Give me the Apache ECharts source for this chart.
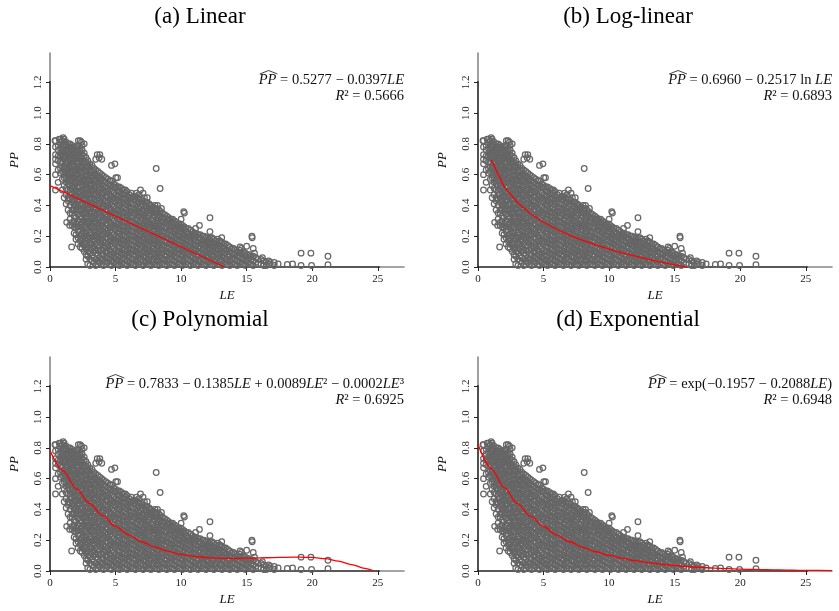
<!DOCTYPE html>
<html>
<head>
<meta charset="utf-8">
<title>PP against LE, four fits</title>
<script src="https://cdn.jsdelivr.net/npm/echarts@6/dist/echarts.min.js"></script>
<style>
  html, body { margin: 0; padding: 0; background: #fff; }
  #chart { width: 839px; height: 611px; }
</style>
</head>
<body>
<div id="chart"></div>
<script>
var colLE = [0.42, 0.8, 1.08, 1.38, 1.69, 1.98, 2.3, 2.61, 2.88, 3.21, 3.49, 3.8, 4.08, 4.41, 4.69,
  5.02, 5.3, 5.61, 5.88, 6.2, 6.52, 6.79, 7.1, 7.42, 7.69, 8.01, 8.3, 8.58, 8.91, 9.2, 9.49, 9.81,
  10.1, 10.38, 10.71, 11.0, 11.29, 11.62, 11.9, 12.21, 12.49, 12.8, 13.12, 13.4, 13.71, 14.0, 14.28,
  14.6, 14.9, 15.22, 15.5, 15.88, 16.3, 16.68, 17.1];
var colPP = [
  [0.5, 0.6, 0.67, 0.7, 0.73, 0.78, 0.82],
  [0.61, 0.64, 0.68, 0.72, 0.74, 0.77, 0.81, 0.83],
  [0.45, 0.53, 0.58, 0.6, 0.64, 0.66, 0.7, 0.72, 0.75, 0.78, 0.8, 0.83],
  [0.37, 0.43, 0.45, 0.5, 0.54, 0.56, 0.6, 0.62, 0.65, 0.68, 0.7, 0.73, 0.75, 0.77, 0.8],
  [0.27, 0.29, 0.35, 0.37, 0.42, 0.44, 0.48, 0.51, 0.53, 0.57, 0.59, 0.62, 0.65, 0.67, 0.7, 0.73, 0.74, 0.77, 0.79],
  [0.18, 0.21, 0.26, 0.28, 0.32, 0.36, 0.38, 0.41, 0.45, 0.47, 0.5, 0.54, 0.56, 0.59, 0.61, 0.64, 0.68, 0.7, 0.72, 0.75, 0.78],
  [0.13, 0.17, 0.2, 0.24, 0.27, 0.31, 0.33, 0.37, 0.4, 0.44, 0.46, 0.49, 0.52, 0.55, 0.58, 0.62, 0.64, 0.66, 0.7, 0.72, 0.75, 0.77, 0.82],
  [0.1, 0.14, 0.16, 0.2, 0.23, 0.27, 0.3, 0.34, 0.36, 0.39, 0.43, 0.45, 0.48, 0.51, 0.55, 0.57, 0.6, 0.63, 0.67, 0.69, 0.72, 0.74, 0.8],
  [0.02, 0.07, 0.1, 0.13, 0.18, 0.2, 0.24, 0.28, 0.3, 0.33, 0.37, 0.39, 0.42, 0.46, 0.48, 0.51, 0.55, 0.57, 0.6, 0.64, 0.66, 0.69],
  [0.04, 0.07, 0.12, 0.15, 0.17, 0.21, 0.25, 0.27, 0.31, 0.33, 0.36, 0.4, 0.42, 0.45, 0.49, 0.51, 0.54, 0.58, 0.6, 0.63, 0.66],
  [0.01, 0.05, 0.09, 0.11, 0.15, 0.19, 0.21, 0.24, 0.28, 0.3, 0.33, 0.37, 0.39, 0.42, 0.46, 0.48, 0.51, 0.55, 0.57, 0.6, 0.63, 0.7],
  [0.03, 0.06, 0.1, 0.14, 0.16, 0.19, 0.23, 0.25, 0.28, 0.32, 0.34, 0.37, 0.41, 0.43, 0.46, 0.5, 0.52, 0.55, 0.58, 0.61, 0.73],
  [0.01, 0.05, 0.08, 0.12, 0.14, 0.17, 0.21, 0.23, 0.26, 0.3, 0.32, 0.35, 0.39, 0.41, 0.44, 0.48, 0.5, 0.53, 0.56, 0.59],
  [0.03, 0.06, 0.09, 0.13, 0.15, 0.18, 0.22, 0.24, 0.27, 0.31, 0.33, 0.36, 0.4, 0.42, 0.45, 0.49, 0.51, 0.54, 0.57],
  [0.01, 0.04, 0.08, 0.1, 0.13, 0.17, 0.19, 0.22, 0.26, 0.28, 0.31, 0.35, 0.37, 0.4, 0.44, 0.46, 0.49, 0.53, 0.56, 0.66],
  [0.02, 0.05, 0.07, 0.11, 0.15, 0.17, 0.2, 0.24, 0.26, 0.29, 0.33, 0.35, 0.38, 0.42, 0.44, 0.47, 0.51, 0.53, 0.58],
  [0.01, 0.04, 0.08, 0.1, 0.13, 0.16, 0.2, 0.22, 0.25, 0.29, 0.31, 0.34, 0.38, 0.4, 0.43, 0.47, 0.49, 0.52],
  [0.02, 0.06, 0.08, 0.11, 0.15, 0.17, 0.2, 0.24, 0.26, 0.29, 0.33, 0.35, 0.38, 0.42, 0.44, 0.47, 0.5],
  [0.01, 0.04, 0.07, 0.1, 0.14, 0.16, 0.19, 0.23, 0.25, 0.28, 0.32, 0.34, 0.37, 0.41, 0.43, 0.46, 0.49],
  [0.02, 0.05, 0.09, 0.11, 0.14, 0.18, 0.2, 0.23, 0.27, 0.29, 0.32, 0.36, 0.38, 0.41, 0.45, 0.48],
  [0.01, 0.04, 0.07, 0.1, 0.13, 0.16, 0.19, 0.22, 0.25, 0.28, 0.31, 0.35, 0.37, 0.4, 0.44, 0.46],
  [0.02, 0.06, 0.08, 0.11, 0.15, 0.17, 0.2, 0.24, 0.26, 0.29, 0.33, 0.35, 0.38, 0.42, 0.44, 0.47],
  [0.01, 0.04, 0.07, 0.1, 0.14, 0.16, 0.19, 0.23, 0.25, 0.28, 0.32, 0.34, 0.37, 0.41, 0.43, 0.48],
  [0.02, 0.05, 0.09, 0.11, 0.14, 0.18, 0.2, 0.23, 0.27, 0.29, 0.32, 0.36, 0.38, 0.42, 0.45],
  [0.01, 0.04, 0.07, 0.1, 0.13, 0.16, 0.19, 0.22, 0.26, 0.28, 0.31, 0.35, 0.37, 0.4],
  [0.02, 0.06, 0.08, 0.11, 0.15, 0.17, 0.2, 0.24, 0.26, 0.29, 0.33, 0.35, 0.38, 0.4],
  [0.01, 0.04, 0.07, 0.1, 0.14, 0.16, 0.19, 0.23, 0.25, 0.28, 0.32, 0.34, 0.37],
  [0.02, 0.05, 0.09, 0.11, 0.14, 0.18, 0.2, 0.23, 0.27, 0.29, 0.32, 0.35],
  [0.01, 0.04, 0.07, 0.1, 0.13, 0.16, 0.19, 0.22, 0.26, 0.28, 0.31, 0.33],
  [0.02, 0.06, 0.08, 0.11, 0.15, 0.17, 0.2, 0.24, 0.26, 0.29, 0.31],
  [0.01, 0.04, 0.07, 0.1, 0.14, 0.16, 0.19, 0.23, 0.25, 0.28, 0.3],
  [0.02, 0.05, 0.09, 0.11, 0.14, 0.18, 0.2, 0.23, 0.26, 0.28],
  [0.01, 0.04, 0.07, 0.1, 0.13, 0.16, 0.19, 0.22, 0.25, 0.27],
  [0.02, 0.06, 0.08, 0.11, 0.15, 0.17, 0.2, 0.23, 0.25],
  [0.01, 0.04, 0.07, 0.1, 0.14, 0.16, 0.19, 0.21, 0.24],
  [0.02, 0.05, 0.09, 0.11, 0.14, 0.18, 0.2, 0.22],
  [0.01, 0.04, 0.07, 0.1, 0.13, 0.16, 0.19, 0.21],
  [0.02, 0.06, 0.08, 0.11, 0.15, 0.17, 0.2],
  [0.01, 0.04, 0.07, 0.1, 0.14, 0.16, 0.19],
  [0.02, 0.05, 0.09, 0.11, 0.14, 0.16, 0.19],
  [0.01, 0.04, 0.07, 0.1, 0.13, 0.15, 0.18],
  [0.02, 0.06, 0.08, 0.11, 0.14, 0.18],
  [0.01, 0.04, 0.07, 0.1, 0.13, 0.16],
  [0.02, 0.05, 0.09, 0.11, 0.15],
  [0.01, 0.04, 0.07, 0.1, 0.13],
  [0.02, 0.06, 0.08, 0.12],
  [0.01, 0.04, 0.07, 0.1],
  [0.02, 0.05, 0.09, 0.12],
  [0.01, 0.04, 0.07, 0.09],
  [0.02, 0.06, 0.08],
  [0.01, 0.04, 0.07],
  [0.02, 0.05],
  [0.01, 0.04],
  [0.02, 0.04],
  [0.01, 0.03]
];
// second set of columns lying between the first ones
var colLE2 = [0.62, 0.94, 1.23, 1.53, 1.84, 2.14, 2.45, 2.75, 3.05, 3.35, 3.65, 3.94, 4.25, 4.55, 4.86,
  5.16, 5.46, 5.75, 6.05, 6.36, 6.66, 6.95, 7.26, 7.56, 7.85, 8.16, 8.44, 8.75, 9.05, 9.35, 9.65, 9.95,
  10.24, 10.55, 10.86, 11.15, 11.46, 11.76, 12.05, 12.35, 12.65, 12.96, 13.26, 13.55, 13.86, 14.14,
  14.45, 14.75, 15.06, 15.36, 15.7, 16.1, 16.5];
var colPP2 = [
  [0.55, 0.63, 0.69, 0.72, 0.76, 0.79],
  [0.5, 0.57, 0.62, 0.65, 0.68, 0.71, 0.73, 0.76, 0.79, 0.82],
  [0.41, 0.47, 0.51, 0.55, 0.58, 0.61, 0.64, 0.67, 0.69, 0.72, 0.74, 0.76, 0.79, 0.81],
  [0.31, 0.35, 0.4, 0.44, 0.47, 0.5, 0.53, 0.56, 0.59, 0.61, 0.64, 0.66, 0.69, 0.71, 0.74, 0.76, 0.78, 0.8],
  [0.22, 0.26, 0.3, 0.33, 0.37, 0.4, 0.43, 0.46, 0.49, 0.52, 0.55, 0.58, 0.6, 0.63, 0.66, 0.69, 0.71, 0.73, 0.76, 0.78],
  [0.15, 0.19, 0.23, 0.26, 0.3, 0.34, 0.37, 0.4, 0.43, 0.46, 0.49, 0.52, 0.55, 0.57, 0.6, 0.63, 0.65, 0.68, 0.71, 0.73, 0.76, 0.79],
  [0.12, 0.15, 0.19, 0.22, 0.26, 0.29, 0.32, 0.35, 0.38, 0.41, 0.44, 0.47, 0.5, 0.53, 0.56, 0.59, 0.62, 0.65, 0.68, 0.71, 0.73, 0.76, 0.79],
  [0.05, 0.08, 0.12, 0.15, 0.19, 0.22, 0.26, 0.29, 0.32, 0.35, 0.38, 0.41, 0.44, 0.47, 0.5, 0.53, 0.56, 0.59, 0.62, 0.65, 0.68, 0.71],
  [0.01, 0.05, 0.09, 0.12, 0.16, 0.19, 0.22, 0.26, 0.29, 0.32, 0.35, 0.38, 0.41, 0.44, 0.47, 0.5, 0.53, 0.56, 0.59, 0.62, 0.65, 0.67],
  [0.03, 0.06, 0.1, 0.13, 0.17, 0.2, 0.23, 0.26, 0.29, 0.32, 0.35, 0.38, 0.41, 0.44, 0.47, 0.5, 0.53, 0.56, 0.59, 0.62, 0.64],
  [0.02, 0.04, 0.08, 0.11, 0.14, 0.18, 0.2, 0.23, 0.27, 0.29, 0.32, 0.36, 0.38, 0.41, 0.45, 0.47, 0.5, 0.54, 0.56, 0.59, 0.62],
  [0.02, 0.05, 0.08, 0.11, 0.15, 0.18, 0.21, 0.24, 0.27, 0.3, 0.33, 0.36, 0.39, 0.42, 0.45, 0.48, 0.51, 0.54, 0.57, 0.6],
  [0.02, 0.04, 0.07, 0.1, 0.13, 0.16, 0.19, 0.22, 0.25, 0.28, 0.31, 0.34, 0.37, 0.4, 0.43, 0.46, 0.49, 0.52, 0.55, 0.58],
  [0.02, 0.05, 0.08, 0.11, 0.14, 0.17, 0.2, 0.23, 0.26, 0.29, 0.32, 0.35, 0.38, 0.41, 0.44, 0.47, 0.5, 0.53, 0.56],
  [0.03, 0.06, 0.09, 0.12, 0.16, 0.18, 0.21, 0.25, 0.27, 0.3, 0.34, 0.36, 0.39, 0.43, 0.45, 0.48, 0.52, 0.54],
  [0.02, 0.04, 0.07, 0.1, 0.13, 0.16, 0.19, 0.22, 0.25, 0.28, 0.31, 0.34, 0.37, 0.4, 0.43, 0.46, 0.49, 0.52],
  [0.03, 0.05, 0.09, 0.12, 0.15, 0.18, 0.21, 0.24, 0.27, 0.3, 0.33, 0.36, 0.39, 0.42, 0.45, 0.48, 0.51],
  [0.02, 0.05, 0.08, 0.12, 0.14, 0.17, 0.21, 0.23, 0.26, 0.3, 0.32, 0.35, 0.39, 0.41, 0.44, 0.48, 0.5],
  [0.03, 0.06, 0.09, 0.12, 0.15, 0.18, 0.21, 0.24, 0.27, 0.3, 0.33, 0.36, 0.39, 0.42, 0.45, 0.47],
  [0.02, 0.05, 0.08, 0.11, 0.14, 0.17, 0.2, 0.23, 0.26, 0.29, 0.33, 0.35, 0.38, 0.41, 0.44, 0.46],
  [0.03, 0.05, 0.09, 0.12, 0.15, 0.18, 0.21, 0.24, 0.27, 0.3, 0.33, 0.36, 0.39, 0.42, 0.45],
  [0.02, 0.05, 0.08, 0.12, 0.14, 0.17, 0.21, 0.23, 0.26, 0.3, 0.32, 0.35, 0.39, 0.41, 0.44],
  [0.03, 0.06, 0.09, 0.12, 0.15, 0.18, 0.21, 0.24, 0.27, 0.3, 0.33, 0.36, 0.39, 0.42],
  [0.02, 0.05, 0.08, 0.11, 0.14, 0.17, 0.2, 0.23, 0.26, 0.29, 0.33, 0.35, 0.38, 0.41],
  [0.03, 0.05, 0.09, 0.12, 0.15, 0.18, 0.21, 0.24, 0.27, 0.3, 0.33, 0.36, 0.39],
  [0.02, 0.05, 0.08, 0.12, 0.14, 0.17, 0.21, 0.23, 0.26, 0.3, 0.32, 0.35, 0.38],
  [0.03, 0.06, 0.09, 0.12, 0.15, 0.18, 0.21, 0.24, 0.27, 0.3, 0.33, 0.36],
  [0.02, 0.05, 0.08, 0.11, 0.14, 0.17, 0.2, 0.23, 0.26, 0.29, 0.32, 0.34],
  [0.03, 0.05, 0.09, 0.12, 0.15, 0.18, 0.21, 0.24, 0.27, 0.3, 0.32],
  [0.02, 0.05, 0.08, 0.12, 0.14, 0.17, 0.21, 0.23, 0.26, 0.29, 0.31],
  [0.03, 0.06, 0.09, 0.12, 0.15, 0.18, 0.21, 0.24, 0.27, 0.29],
  [0.02, 0.05, 0.08, 0.11, 0.14, 0.17, 0.2, 0.23, 0.25, 0.28],
  [0.03, 0.05, 0.09, 0.12, 0.15, 0.18, 0.21, 0.24, 0.26],
  [0.02, 0.05, 0.08, 0.12, 0.14, 0.17, 0.2, 0.22, 0.25],
  [0.03, 0.06, 0.09, 0.12, 0.15, 0.18, 0.21, 0.23],
  [0.02, 0.05, 0.08, 0.11, 0.14, 0.17, 0.2, 0.22],
  [0.03, 0.05, 0.09, 0.12, 0.15, 0.18, 0.21],
  [0.02, 0.05, 0.08, 0.12, 0.14, 0.17, 0.2],
  [0.03, 0.06, 0.09, 0.12, 0.15, 0.17, 0.19],
  [0.02, 0.05, 0.08, 0.11, 0.14, 0.16, 0.19],
  [0.03, 0.05, 0.09, 0.12, 0.15, 0.17],
  [0.02, 0.05, 0.08, 0.12, 0.14, 0.17],
  [0.03, 0.06, 0.09, 0.12, 0.15],
  [0.02, 0.05, 0.08, 0.11, 0.14],
  [0.03, 0.05, 0.09, 0.12],
  [0.02, 0.05, 0.08, 0.11],
  [0.03, 0.06, 0.09, 0.11],
  [0.02, 0.05, 0.08, 0.1],
  [0.03, 0.05, 0.08],
  [0.02, 0.05, 0.07],
  [0.03, 0.06],
  [0.02, 0.05],
  [0.01, 0.03]
];
// points lying away from the main cloud
var sparseLE = [0.38, 0.7, 1.0, 1.65, 1.27, 1.5, 2.16, 2.4, 3.6, 3.75, 3.95, 4.95, 5.15, 6.6, 6.9, 7.2,
  7.6, 8.2, 8.5, 8.1, 8.4, 10.0, 10.2, 10.25, 11.1, 11.4, 12.2, 12.2, 13.1, 14.5, 15.0, 15.4, 15.42,
  15.5, 15.6, 16.2, 16.8, 17.4, 18.1, 18.5, 19.15, 19.15, 19.9, 19.95, 21.2, 21.2];
var sparsePP = [0.82, 0.83, 0.84, 0.13, 0.29, 0.27, 0.82, 0.81, 0.73, 0.71, 0.70, 0.67, 0.58, 0.48, 0.50, 0.45,
  0.40, 0.40, 0.38, 0.64, 0.51, 0.31, 0.36, 0.35, 0.25, 0.27, 0.32, 0.23, 0.19, 0.13, 0.135, 0.20, 0.19,
  0.12, 0.09, 0.06, 0.03, 0.02, 0.017, 0.02, 0.09, 0.01, 0.09, 0.01, 0.07, 0.015];

// fitted curves
var linLE = [0, 13.3];
var linPP = [0.528, 0];
var logLE = [1, 2, 3, 4, 5, 6, 7, 8, 9, 10, 11, 12, 13, 14, 15, 15.9];
var logPP = [0.696, 0.522, 0.419, 0.347, 0.291, 0.245, 0.206, 0.173, 0.143, 0.116, 0.092, 0.071, 0.05, 0.032, 0.014, 0];
var polyLE = [0, 1, 2, 3, 4, 5, 6, 7, 8, 9, 10, 11, 12, 13, 14, 15, 16, 17, 18, 19, 20, 21, 22, 23, 24, 24.7];
var polyPP = [0.783, 0.65, 0.535, 0.44, 0.36, 0.29, 0.235, 0.19, 0.155, 0.128, 0.108, 0.095, 0.087, 0.083,
  0.082, 0.083, 0.085, 0.087, 0.089, 0.09, 0.088, 0.08, 0.064, 0.042, 0.017, 0];
var expLE = [0, 1, 2, 3, 4, 5, 6, 7, 8, 9, 10, 11, 12, 13, 14, 15, 16, 17, 18, 19, 20, 21, 22, 23, 24, 25, 26, 27];
var expPP = [0.822, 0.667, 0.541, 0.439, 0.356, 0.289, 0.234, 0.19, 0.154, 0.125, 0.101, 0.082, 0.067, 0.054,
  0.044, 0.036, 0.029, 0.023, 0.019, 0.015, 0.012, 0.01, 0.008, 0.007, 0.005, 0.004, 0.004, 0.003];

var xTicks = [0, 5, 10, 15, 20, 25];
var yTicks = [0, 0.2, 0.4, 0.6, 0.8, 1.0, 1.2];

var panelTitles = ['(a) Linear', '(b) Log-linear', '(c) Polynomial', '(d) Exponential'];
// equation pieces: [text, italic]
var eqLines = [
  [['PP', 1], [' = 0.5277 \u2212 0.0397', 0], ['LE', 1]],
  [['PP', 1], [' = 0.6960 \u2212 0.2517 ln ', 0], ['LE', 1]],
  [['PP', 1], [' = 0.7833 \u2212 0.1385', 0], ['LE', 1], [' + 0.0089', 0], ['LE', 1], ['\u00b2', 0],
    [' \u2212 0.0002', 0], ['LE', 1], ['\u00b3', 0]],
  [['PP', 1], [' = exp(\u22120.1957 \u2212 0.2088', 0], ['LE', 1], [')', 0]]
];
var r2Values = ['0.5666', '0.6893', '0.6925', '0.6948'];

var SERIF = '"Liberation Serif", "Times New Roman", serif';
var EQ_SIZE = 14.5;
var panels = [
  { left: 50, top: 53, titleX: 200, titleY: 17 },
  { left: 478, top: 53, titleX: 628, titleY: 17 },
  { left: 50, top: 357, titleX: 200, titleY: 320 },
  { left: 478, top: 357, titleX: 628, titleY: 320 }
];
var PW = 354, PH = 214;

var obs = [];
function addColumns(les, pps) {
  les.forEach(function (le, i) {
    (pps[i] || []).forEach(function (pp) { obs.push([le, pp]); });
  });
}
addColumns(colLE, colPP);
addColumns(colLE2, colPP2);
sparseLE.forEach(function (le, i) { obs.push([le, sparsePP[i]]); });

function zip(a, b) { return a.map(function (v, i) { return [v, b[i]]; }); }
var fits = [zip(linLE, linPP), zip(logLE, logPP), zip(polyLE, polyPP), zip(expLE, expPP)];

var measureCtx = document.createElement('canvas').getContext('2d');
function segWidth(seg) {
  measureCtx.font = (seg[1] ? 'italic ' : '') + EQ_SIZE + 'px ' + SERIF;
  return measureCtx.measureText(seg[0]).width;
}
var richStyles = {
  i: { fontStyle: 'italic', fontFamily: SERIF, fontSize: EQ_SIZE, fill: '#111' },
  r: { fontFamily: SERIF, fontSize: EQ_SIZE, fill: '#111' }
};
function richText(segs) {
  return segs.map(function (s) { return '{' + (s[1] ? 'i' : 'r') + '|' + s[0] + '}'; }).join('');
}

var grids = [], xAxes = [], yAxes = [], series = [], graphics = [];
panels.forEach(function (p, k) {
  grids.push({ left: p.left, top: p.top, width: PW, height: PH, outerBoundsMode: 'none' });
  xAxes.push({
    gridIndex: k, type: 'value', min: 0, max: 27, interval: 5,
    name: 'LE', nameLocation: 'middle', nameGap: 22,
    nameTextStyle: { fontFamily: SERIF, fontStyle: 'italic', fontSize: 13, color: '#111' },
    axisLine: { onZero: false, lineStyle: { width: 1.6, color: new echarts.graphic.LinearGradient(0, 0, 1, 0, [
      { offset: 0, color: '#222' }, { offset: 0.926, color: '#222' },
      { offset: 0.926, color: '#888' }, { offset: 1, color: '#888' }]) } },
    axisTick: { customValues: xTicks, length: 4, lineStyle: { color: '#222', width: 1 } },
    axisLabel: { customValues: xTicks, margin: 7, fontFamily: SERIF, fontSize: 11, color: '#222' },
    splitLine: { show: false }
  });
  yAxes.push({
    gridIndex: k, type: 'value', min: 0, max: 1.39, interval: 0.2,
    name: 'PP', nameLocation: 'middle', nameGap: 29,
    nameTextStyle: { fontFamily: SERIF, fontStyle: 'italic', fontSize: 13, color: '#111' },
    axisLine: { onZero: false, lineStyle: { width: 1.6, color: new echarts.graphic.LinearGradient(0, 1, 0, 0, [
      { offset: 0, color: '#222' }, { offset: 0.863, color: '#222' },
      { offset: 0.863, color: '#888' }, { offset: 1, color: '#888' }]) } },
    axisTick: { customValues: yTicks, length: 4, lineStyle: { color: '#222', width: 1 } },
    axisLabel: { customValues: yTicks, rotate: 90, margin: 6, fontFamily: SERIF, fontSize: 11, color: '#222',
      formatter: function (v) { return v.toFixed(1); } },
    splitLine: { show: false }
  });
  series.push({
    type: 'scatter', xAxisIndex: k, yAxisIndex: k, data: obs, silent: true,
    symbol: 'circle', symbolSize: 5.6,
    itemStyle: { color: 'rgba(0,0,0,0)', borderColor: '#666', borderWidth: 1.25, opacity: 1 },
    z: 2
  });
  series.push({
    type: 'line', xAxisIndex: k, yAxisIndex: k, data: fits[k], silent: true,
    symbol: 'none', smooth: k >= 2 ? 0.3 : false, smoothMonotone: 'x',
    lineStyle: { color: '#f00', width: 1.3 },
    z: 3
  });

  // panel title
  graphics.push({
    type: 'text', x: p.titleX, y: p.titleY,
    style: { text: panelTitles[k], font: '23px ' + SERIF, fill: '#000', align: 'center', verticalAlign: 'middle' }
  });
  // fitted equation and R squared
  var right = p.left + PW, y1 = p.top + 27, y2 = p.top + 43.5;
  var segs = eqLines[k];
  var total = segs.reduce(function (s, seg) { return s + segWidth(seg); }, 0);
  var wPP = segWidth(segs[0]);
  var x0 = right - total;
  graphics.push({
    type: 'text', x: right, y: y1,
    style: { text: richText(segs), rich: richStyles, font: EQ_SIZE + 'px ' + SERIF, fill: '#111',
      align: 'right', verticalAlign: 'middle' }
  });
  graphics.push({
    type: 'polyline',
    shape: { points: [[x0 + 1, y1 - 6], [x0 + 1 + wPP / 2, y1 - 9.5], [x0 + 1 + wPP, y1 - 6]] },
    style: { stroke: '#111', lineWidth: 0.8, fill: 'none' }
  });
  graphics.push({
    type: 'text', x: right, y: y2,
    style: { text: richText([['R', 1], ['\u00b2 = ' + r2Values[k], 0]]), rich: richStyles,
      font: EQ_SIZE + 'px ' + SERIF, fill: '#111', align: 'right', verticalAlign: 'middle' }
  });
});

var chart = echarts.init(document.getElementById('chart'), null, { renderer: 'canvas' });
chart.setOption({
  animation: false,
  backgroundColor: '#fff',
  grid: grids,
  xAxis: xAxes,
  yAxis: yAxes,
  series: series,
  graphic: { elements: graphics }
});
</script>
</body>
</html>
